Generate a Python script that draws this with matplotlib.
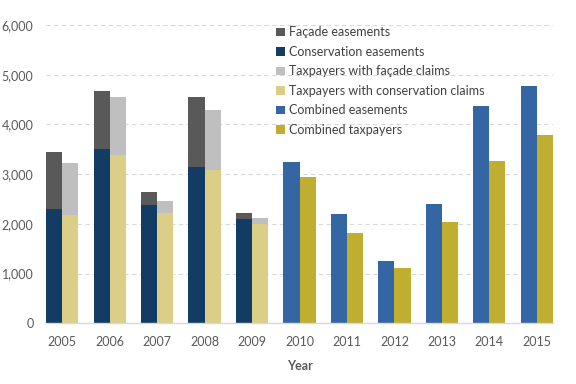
import numpy as np
import matplotlib
matplotlib.use("Agg")
import matplotlib.pyplot as plt
from matplotlib.patches import Patch

plt.rcParams["font.family"] = ["Lato", "DejaVu Sans"]

anni = ["2005", "2006", "2007", "2008", "2009", "2010",
        "2011", "2012", "2013", "2014", "2015"]

# 2005-2009: easements split by type, stacked
cons_ease = [2300, 3510, 2380, 3150, 2090]
facade_ease = [1140, 1160, 270, 1410, 120]
cons_tax = [2170, 3390, 2210, 3090, 2000]
facade_tax = [1050, 1160, 250, 1190, 110]

# 2010-2015: combined totals
comb_ease = [3250, 2200, 1250, 2390, 4380, 4780]
comb_tax = [2940, 1820, 1120, 2030, 3260, 3780]

COL = {
    "facade": "#595959",
    "cons": "#123c63",
    "tax_facade": "#bfbfbf",
    "tax_cons": "#dbcf88",
    "comb": "#3366a3",
    "comb_tax": "#bfae2f",
}

fig = plt.figure(figsize=(5.76, 3.84), dpi=100)
ax = fig.add_axes([0.080, 0.158, 0.880, 0.777])

w = 0.34
x = np.arange(len(anni))
x1 = x[:5]
x2 = x[5:]

ax.bar(x1 - w / 2, cons_ease, w, color=COL["cons"])
ax.bar(x1 - w / 2, facade_ease, w, bottom=cons_ease, color=COL["facade"])
ax.bar(x1 + w / 2, cons_tax, w, color=COL["tax_cons"])
ax.bar(x1 + w / 2, facade_tax, w, bottom=cons_tax, color=COL["tax_facade"])
ax.bar(x2 - w / 2, comb_ease, w, color=COL["comb"])
ax.bar(x2 + w / 2, comb_tax, w, color=COL["comb_tax"])

ax.set_xlim(-w, len(anni) - 1 + w)
ax.set_ylim(0, 6000)
ax.set_yticks(range(0, 6001, 1000))
ax.set_yticklabels([f"{v:,}" for v in range(0, 6001, 1000)])
ax.set_xticks(x)
ax.set_xticklabels(anni)

ax.grid(axis="y", color="#d9d9d9", linestyle=(0, (4, 3)), linewidth=0.8)
ax.set_axisbelow(True)
for s in ["top", "right", "left"]:
    ax.spines[s].set_visible(False)
ax.spines["bottom"].set_color("#d9d9d9")
ax.spines["bottom"].set_linewidth(1.0)
ax.tick_params(axis="both", length=0, labelsize=9, colors="#595959")
ax.tick_params(axis="y", pad=9)
ax.tick_params(axis="x", pad=9)

ax.set_xlabel("Year", fontsize=9, fontweight="bold", color="#595959", labelpad=9)

voci = [
    ("Façade easements", COL["facade"]),
    ("Conservation easements", COL["cons"]),
    ("Taxpayers with façade claims", COL["tax_facade"]),
    ("Taxpayers with conservation claims", COL["tax_cons"]),
    ("Combined easements", COL["comb"]),
    ("Combined taxpayers", COL["comb_tax"]),
]
handles = [Patch(facecolor=c, label=n) for n, c in voci]
leg = ax.legend(handles=handles, loc="upper left", bbox_to_anchor=(0.439, 1.02),
                frameon=False, fontsize=9, handlelength=0.7, handleheight=0.7,
                handletextpad=0.3, labelspacing=0.6, borderaxespad=0.2)
for t in leg.get_texts():
    t.set_color("#404040")

fig.savefig("out.png", dpi=100)
